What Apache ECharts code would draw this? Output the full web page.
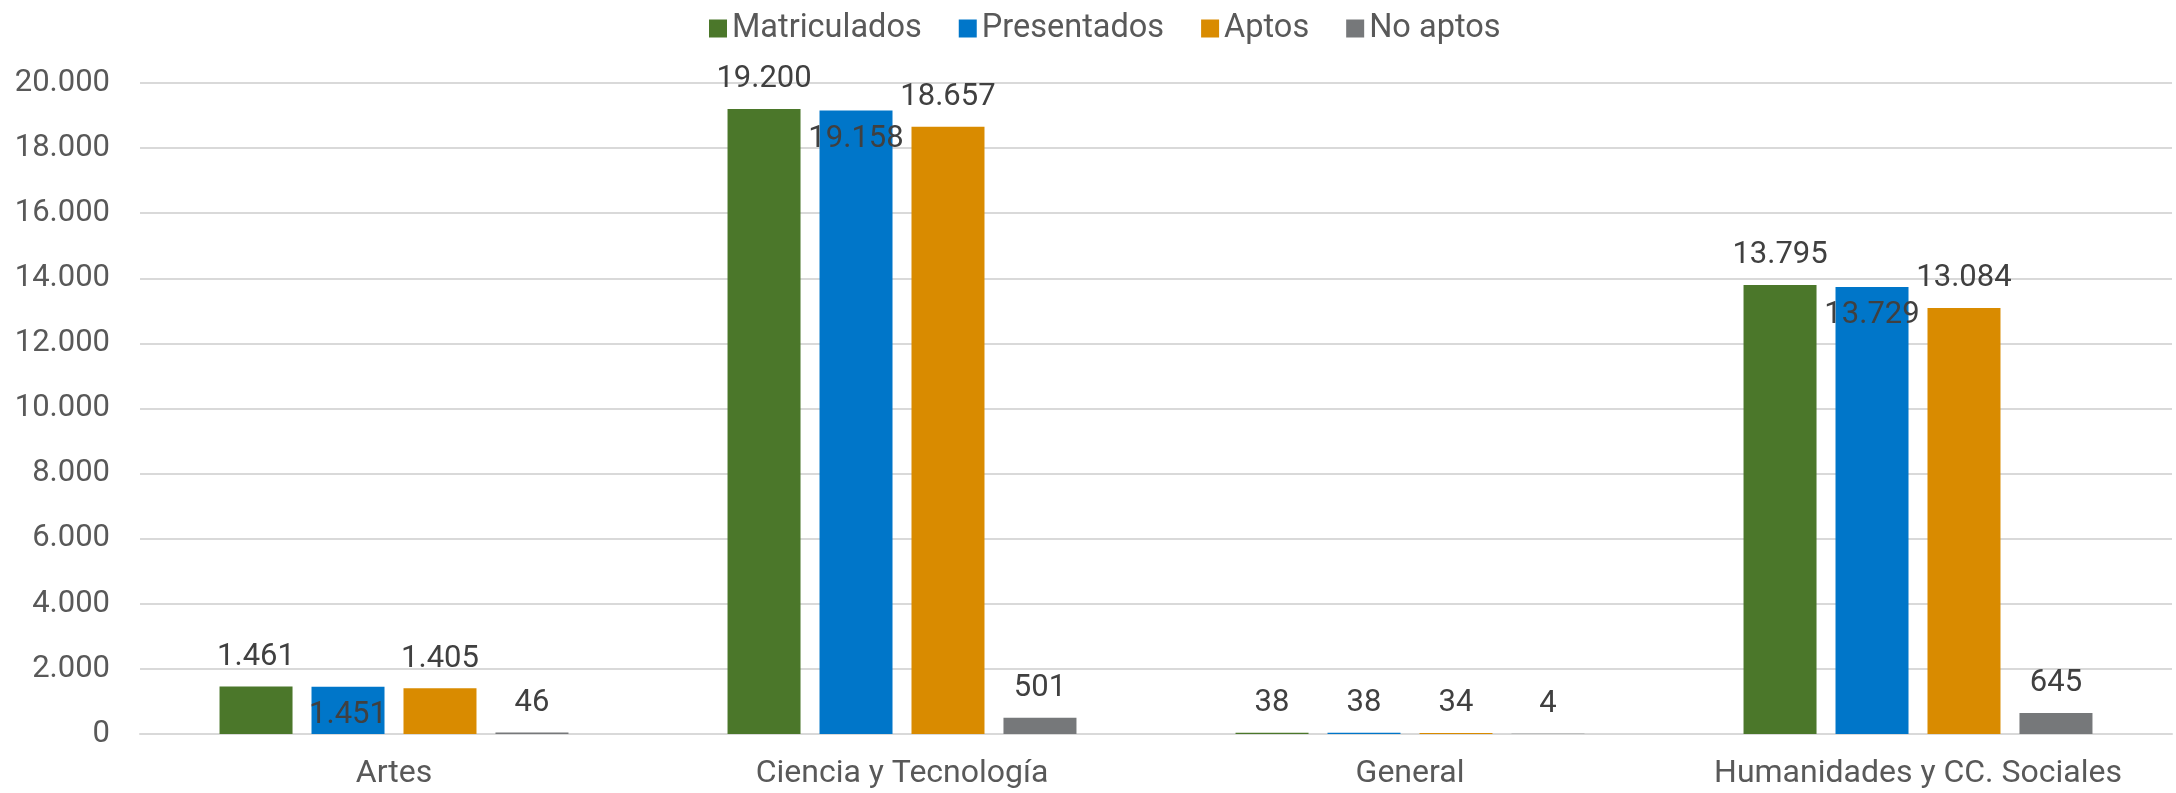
<!DOCTYPE html>
<html>
<head>
<meta charset="utf-8">
<script src="https://cdn.jsdelivr.net/npm/echarts@6/dist/echarts.min.js"></script>
<style>
  html, body { margin: 0; padding: 0; background: #fff; }
  #chart { width: 2176px; height: 793px; }
</style>
</head>
<body>
<div id="chart"></div>
<script>
// data
const categories = ['Artes', 'Ciencia y Tecnología', 'General', 'Humanidades y CC. Sociales']
const seriesNames = ['Matriculados', 'Presentados', 'Aptos', 'No aptos']
const matriculados = [1461, 19200, 38, 13795]
const presentados = [1451, 19158, 38, 13729]
const aptos = [1405, 18657, 34, 13084]
const noAptos = [46, 501, 4, 645]
const yTicks = [0, 2000, 4000, 6000, 8000, 10000, 12000, 14000, 16000, 18000, 20000]

const colors = ['#4b772a', '#0076c9', '#d98b00', '#76787a']
const FONT = 'Roboto'

// excel pushed some "Presentados" labels down into the bar to avoid overlap
const pushDown = [true, true, false, true]

const fmt = v => String(v).replace(/\B(?=(\d{3})+(?!\d))/g, '.')

const chart = echarts.init(document.getElementById('chart'))

const values = [matriculados, presentados, aptos, noAptos]

const option = {
  animation: false,
  textStyle: { fontFamily: FONT },
  color: colors,
  legend: {
    data: seriesNames,
    left: 704,
    top: 7,
    icon: 'rect',
    itemWidth: 18,
    itemHeight: 18,
    itemGap: 37,
    textStyle: { fontFamily: FONT, fontSize: 32.5, color: '#595959' }
  },
  grid: {
    left: 140,
    right: 4,
    top: 83,
    bottom: 59,
    containLabel: false
  },
  xAxis: {
    type: 'category',
    data: categories,
    axisLine: { lineStyle: { color: '#d9d9d9', width: 2 } },
    axisTick: { show: false },
    axisLabel: { fontFamily: FONT, fontSize: 32, color: '#595959', margin: 24, interval: 0 }
  },
  yAxis: {
    type: 'value',
    min: yTicks[0],
    max: yTicks[yTicks.length - 1],
    interval: yTicks[1] - yTicks[0],
    axisLine: { show: false },
    axisTick: { show: false },
    splitLine: { lineStyle: { color: '#d9d9d9', width: 2 } },
    axisLabel: {
      fontFamily: FONT, fontSize: 31, color: '#595959', margin: 30,
      formatter: v => fmt(v)
    }
  },
  series: seriesNames.map((name, si) => {
    return {
      name: name,
      type: 'bar',
      barWidth: 73,
      barGap: '26%',
      itemStyle: { color: colors[si] },
      label: {
        show: true,
        position: 'top',
        distance: 14,
        fontFamily: FONT,
        fontSize: 31,
        color: '#404040',
        formatter: p => fmt(p.value)
      },
      data: values[si].map((v, i) => {
        if (si === 1 && pushDown[i]) {
          return { value: v, label: { position: 'insideTop', distance: 13 } }
        }
        return v
      })
    }
  })
}

chart.setOption(option)
</script>
</body>
</html>
